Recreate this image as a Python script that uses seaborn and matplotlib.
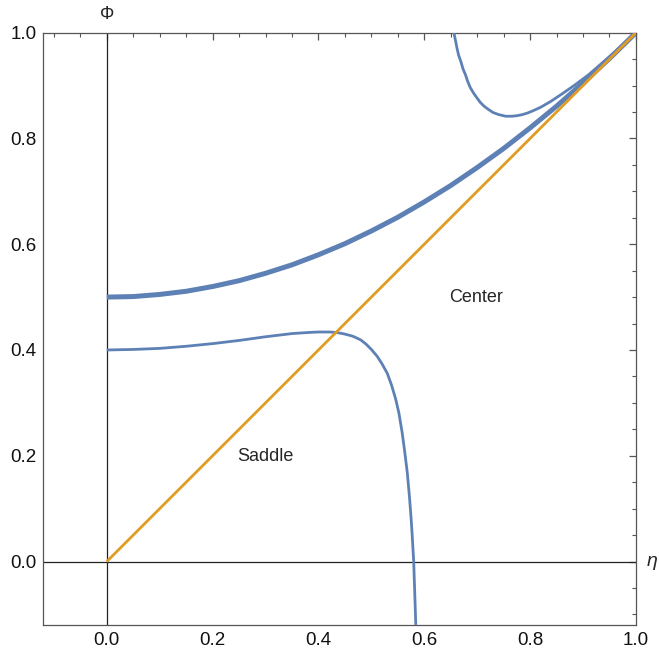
import seaborn as sns
import matplotlib.pyplot as plt
import pandas as pd
from matplotlib.ticker import MultipleLocator

# values
upper_eta = [0.00, 0.05, 0.10, 0.15, 0.20, 0.25, 0.30, 0.35, 0.40, 0.45, 0.50,
             0.55, 0.60, 0.65, 0.70, 0.75, 0.80, 0.85, 0.90, 0.95, 1.00]
upper_phi = [0.500, 0.501, 0.505, 0.511, 0.520, 0.531, 0.545, 0.561, 0.580, 0.601, 0.625,
             0.651, 0.680, 0.711, 0.745, 0.781, 0.820, 0.861, 0.905, 0.951, 1.000]

lower_eta = [0.000, 0.05, 0.10, 0.15, 0.20, 0.25, 0.30, 0.35, 0.38, 0.40, 0.42, 0.435,
             0.45, 0.465, 0.48, 0.49, 0.50, 0.511, 0.52, 0.530, 0.538, 0.546, 0.552,
             0.558, 0.563, 0.568, 0.572, 0.575, 0.577, 0.580, 0.582, 0.584]
lower_phi = [0.400, 0.401, 0.403, 0.407, 0.412, 0.418, 0.425, 0.431, 0.433, 0.434, 0.434, 0.433,
             0.430, 0.426, 0.419, 0.411, 0.401, 0.388, 0.374, 0.356, 0.334, 0.307, 0.281,
             0.245, 0.208, 0.167, 0.122, 0.083, 0.052, 0.000, -0.060, -0.120]

top_eta = [0.656, 0.659, 0.662, 0.665, 0.669, 0.673, 0.678, 0.682, 0.687, 0.693,
           0.700, 0.706, 0.713, 0.721, 0.730, 0.741, 0.754, 0.765, 0.775, 0.785,
           0.795, 0.807, 0.820, 0.839, 0.860, 0.883, 0.910, 0.933, 0.965, 1.000]
top_phi = [1.000, 0.985, 0.970, 0.957, 0.946, 0.932, 0.920, 0.908, 0.896, 0.886,
           0.876, 0.868, 0.861, 0.855, 0.849, 0.845, 0.842, 0.842, 0.843, 0.845,
           0.848, 0.853, 0.859, 0.870, 0.884, 0.900, 0.920, 0.940, 0.968, 1.000]

diag_eta = [0.0, 1.0]
diag_phi = [0.0, 1.0]

blue = '#5E81B5'
orange = '#E19C24'

sns.set_theme(style='white')
plt.rcParams['font.family'] = ['Liberation Sans', 'DejaVu Sans']

fig = plt.figure(figsize=(6.59, 6.51), dpi=100)
ax = fig.add_axes([0.0657, 0.040, 0.8993, 0.9098])

ax.axhline(0, color='#222222', lw=0.9, zorder=1)
ax.axvline(0, color='#222222', lw=0.9, zorder=1)

curves = [
    (upper_eta, upper_phi, blue, 3.6),
    (lower_eta, lower_phi, blue, 2.0),
    (top_eta, top_phi, blue, 2.0),
    (diag_eta, diag_phi, orange, 2.0),
]
for eta, phi, col, lw in curves:
    df = pd.DataFrame({'eta': eta, 'phi': phi})
    sns.lineplot(data=df, x='eta', y='phi', ax=ax, color=col, lw=lw,
                 sort=False, estimator=None, zorder=3,
                 solid_joinstyle='round', solid_capstyle='butt')

ax.set_xlim(-0.12, 1.0)
ax.set_ylim(-0.12, 1.0)
ax.set_xlabel('')
ax.set_ylabel('')

ax.xaxis.set_major_locator(MultipleLocator(0.2))
ax.xaxis.set_minor_locator(MultipleLocator(0.05))
ax.yaxis.set_major_locator(MultipleLocator(0.2))
ax.yaxis.set_minor_locator(MultipleLocator(0.05))
ax.xaxis.set_major_formatter(lambda v, p: f'{v:.1f}')
ax.yaxis.set_major_formatter(lambda v, p: f'{v:.1f}')
ax.tick_params(which='both', direction='in', top=True, right=True,
               color='#555555', labelsize=13.5, labelcolor='#111111')
ax.tick_params(which='major', length=5, width=0.9, pad=5)
ax.tick_params(which='minor', length=3, width=0.8)
for s in ax.spines.values():
    s.set_color('#555555')
    s.set_linewidth(0.9)

ax.text(0.697, 0.499, 'Center', ha='center', va='center', fontsize=13)
ax.text(0.299, 0.198, 'Saddle', ha='center', va='center', fontsize=13)
ax.text(0.0, 1.035, 'Φ', ha='center', va='center', fontsize=13, clip_on=False)
ax.text(1.03, 0.0, 'η', ha='center', va='center', fontsize=14, style='italic',
        clip_on=False)

fig.savefig('out.png', dpi=100)
